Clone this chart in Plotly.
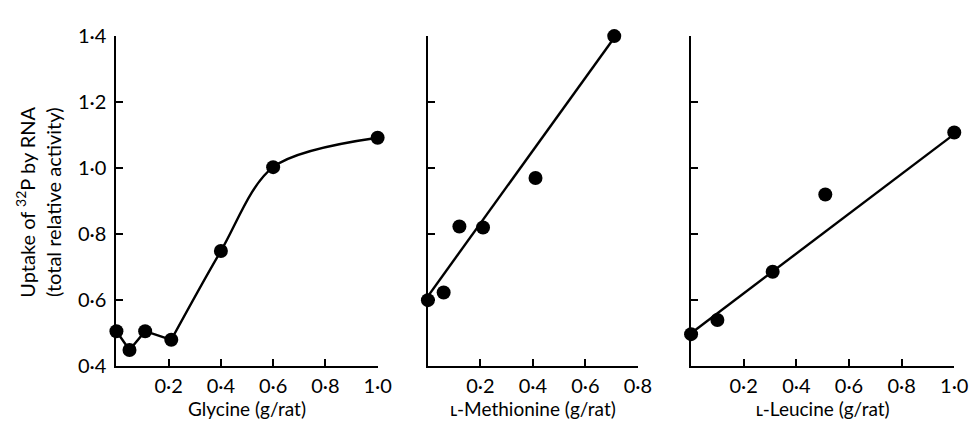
import plotly.graph_objects as go

# ---- data ----
gly_x = [0.0, 0.05, 0.11, 0.21, 0.40, 0.60, 1.00]
gly_y = [0.506, 0.449, 0.506, 0.480, 0.749, 1.003, 1.092]

met_x = [0.0, 0.06, 0.12, 0.21, 0.41, 0.71]
met_y = [0.60, 0.623, 0.823, 0.820, 0.970, 1.400]
met_fit_x = [0.0, 0.71]
met_fit_y = [0.612, 1.395]

leu_x = [0.0, 0.10, 0.31, 0.51, 1.00]
leu_y = [0.497, 0.540, 0.686, 0.920, 1.108]
leu_fit_x = [0.0, 1.00]
leu_fit_y = [0.500, 1.103]

y_ticks = [0.4, 0.6, 0.8, 1.0, 1.2, 1.4]
y_tick_text = ["0·4", "0·6", "0·8", "1·0", "1·2", "1·4"]
x_ticks_1 = [0.2, 0.4, 0.6, 0.8, 1.0]
x_tick_text_1 = ["0·2", "0·4", "0·6", "0·8", "1·0"]
x_ticks_2 = [0.2, 0.4, 0.6, 0.8]
x_tick_text_2 = ["0·2", "0·4", "0·6", "0·8"]

titles = ["Glycine (g/rat)", "ʟ-Methionine (g/rat)", "ʟ-Leucine (g/rat)"]
y_title = "Uptake of <sup>32</sup>P by RNA<br>(total relative activity)"

FONT = "Lato, 'Open Sans', 'DejaVu Sans', sans-serif"
W, H = 978, 422

fig = go.Figure()

mk = dict(color="black", size=14)
ln = dict(color="black", width=2.4)

# Panel 1: glycine
fig.add_trace(go.Scatter(x=gly_x[:4], y=gly_y[:4], mode="lines", line=ln,
                         xaxis="x", yaxis="y", cliponaxis=False, showlegend=False))
fig.add_trace(go.Scatter(x=gly_x[3:], y=gly_y[3:], mode="lines",
                         line=dict(color="black", width=2.4, shape="spline", smoothing=0.9),
                         xaxis="x", yaxis="y", cliponaxis=False, showlegend=False))
fig.add_trace(go.Scatter(x=gly_x, y=gly_y, mode="markers", marker=mk,
                         xaxis="x", yaxis="y", cliponaxis=False, showlegend=False))

# Panel 2: methionine
fig.add_trace(go.Scatter(x=met_fit_x, y=met_fit_y, mode="lines", line=ln,
                         xaxis="x2", yaxis="y2", cliponaxis=False, showlegend=False))
fig.add_trace(go.Scatter(x=met_x, y=met_y, mode="markers", marker=mk,
                         xaxis="x2", yaxis="y2", cliponaxis=False, showlegend=False))

# Panel 3: leucine
fig.add_trace(go.Scatter(x=leu_fit_x, y=leu_fit_y, mode="lines", line=ln,
                         xaxis="x3", yaxis="y3", cliponaxis=False, showlegend=False))
fig.add_trace(go.Scatter(x=leu_x, y=leu_y, mode="markers", marker=mk,
                         xaxis="x3", yaxis="y3", cliponaxis=False, showlegend=False))

ydom = [1 - 366 / H, 1 - 16 / H]
xdoms = [[110 / W, 375 / W], [426 / W, 639 / W], [693 / W, 960 / W]]

axis_common = dict(showgrid=False, zeroline=False, showline=True, linecolor="black",
                   linewidth=2, ticks="inside", ticklen=7, tickwidth=2, tickcolor="black",
                   tickfont=dict(family=FONT, size=20, color="black"))

layout = dict(width=W, height=H, margin=dict(l=0, r=0, t=0, b=0),
              paper_bgcolor="white", plot_bgcolor="white",
              font=dict(family=FONT, color="black"))

xranges = [[0, 1.0], [0, 0.8], [0, 1.0]]
xticks = [(x_ticks_1, x_tick_text_1), (x_ticks_2, x_tick_text_2), (x_ticks_1, x_tick_text_1)]
for i in range(3):
    sfx = "" if i == 0 else str(i + 1)
    layout["xaxis" + sfx] = dict(axis_common, domain=xdoms[i], range=xranges[i],
                                 anchor="y" + sfx, tickvals=xticks[i][0], ticktext=xticks[i][1],
                                 ticklabelstandoff=1,
                                 title=dict(text=titles[i], font=dict(family=FONT, size=19, color="black"),
                                            standoff=4))
    ya = dict(axis_common, domain=ydom, range=[0.4, 1.4], anchor="x" + sfx,
              tickvals=y_ticks, ticktext=y_tick_text, ticklabelstandoff=4)
    if i > 0:
        ya["showticklabels"] = False
    layout["yaxis" + sfx] = ya

fig.update_layout(**layout)

fig.add_annotation(text=y_title, xref="paper", yref="paper", x=31 / W, y=1 - 192 / H,
                   textangle=-90, showarrow=False, font=dict(family=FONT, size=20, color="black"),
                   xanchor="center", yanchor="middle")

fig.write_html("out.html")
